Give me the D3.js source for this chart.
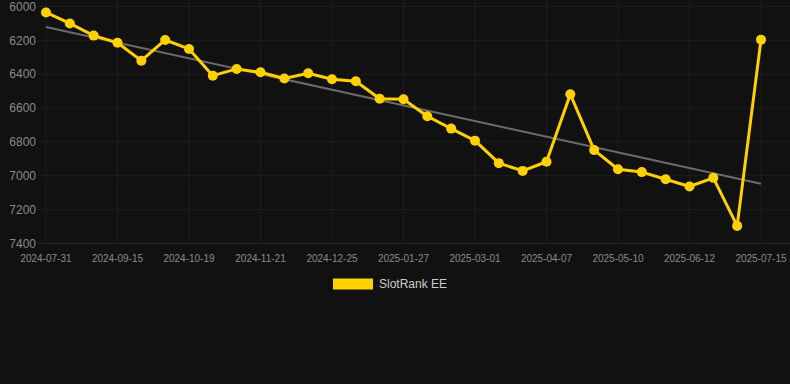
<!DOCTYPE html>
<html>
<head>
<meta charset="utf-8">
<script src="https://cdn.jsdelivr.net/npm/d3@7"></script>
<style>
html,body{margin:0;padding:0;background:#111111;}
svg{display:block;}
</style>
</head>
<body>
<svg id="chart" width="790" height="384"></svg>
<script>
const dates = ["2024-07-31","2024-08-15","2024-08-31","2024-09-15","2024-09-26","2024-10-08","2024-10-19","2024-10-30","2024-11-10","2024-11-21","2024-12-02","2024-12-14","2024-12-25","2025-01-05","2025-01-16","2025-01-27","2025-02-07","2025-02-18","2025-03-01","2025-03-13","2025-03-26","2025-04-07","2025-04-18","2025-04-29","2025-05-10","2025-05-21","2025-06-01","2025-06-12","2025-06-23","2025-07-04","2025-07-15"];
const ranks = [6035,6100,6172,6214,6320,6198,6251,6409,6369,6389,6426,6395,6430,6442,6545,6548,6649,6722,6793,6926,6972,6918,6519,6849,6962,6979,7021,7064,7013,7297,6196];
const yTicks = [6000,6200,6400,6600,6800,7000,7200,7400];
const seriesName = "SlotRank EE";

(function () {
const svg = d3.select("#chart");
const W = 790;
const pLeft = 46, pRight = 761, pTop = 6.5, pBottom = 243.3;

const x = d3.scalePoint().domain(dates).range([pLeft, pRight]);
const y = d3.scaleLinear().domain([6000, 7400]).range([pTop, pBottom]);

const gridColor = "#1d1d1d";
const labelColor = "#8a8a8a";

// horizontal grid
const gy = svg.append("g");
yTicks.forEach(t => {
  gy.append("line").attr("x1", 38).attr("x2", W)
    .attr("y1", y(t)).attr("y2", y(t))
    .attr("stroke", t === 7400 ? "#2a2a2a" : gridColor).attr("stroke-width", 1);
  gy.append("text").attr("x", 36).attr("y", y(t)).attr("dy", "0.35em")
    .attr("text-anchor", "end").attr("fill", labelColor)
    .attr("font-family", "Liberation Sans, Arial, sans-serif").attr("font-size", 12)
    .text(t);
});

// vertical grid + x labels every 3rd
const gx = svg.append("g");
dates.forEach((d, i) => {
  if (i % 3 !== 0) return;
  gx.append("line").attr("x1", x(d)).attr("x2", x(d))
    .attr("y1", 0).attr("y2", pBottom)
    .attr("stroke", gridColor).attr("stroke-width", 1);
  gx.append("text").attr("x", x(d)).attr("y", 262)
    .attr("text-anchor", "middle").attr("fill", labelColor)
    .attr("font-family", "Liberation Sans, Arial, sans-serif").attr("font-size", 10)
    .text(d);
});

// trend line (least squares)
const n = ranks.length;
const idx = d3.range(n);
const mx = d3.mean(idx), my = d3.mean(ranks);
const slope = d3.sum(idx, i => (i - mx) * (ranks[i] - my)) / d3.sum(idx, i => (i - mx) ** 2);
const icpt = my - slope * mx;
svg.append("line")
  .attr("x1", x(dates[0])).attr("y1", y(icpt))
  .attr("x2", x(dates[n - 1])).attr("y2", y(icpt + slope * (n - 1)))
  .attr("stroke", "#6b6b6b").attr("stroke-width", 2);

// series line
const color = "#FFD100";
const line = d3.line().x((d, i) => x(dates[i])).y(d => y(d));
svg.append("path").datum(ranks).attr("d", line)
  .attr("fill", "none").attr("stroke", color).attr("stroke-width", 3)
  .attr("stroke-linejoin", "round");

svg.append("g").selectAll("circle").data(ranks).join("circle")
  .attr("cx", (d, i) => x(dates[i])).attr("cy", d => y(d)).attr("r", 5)
  .attr("fill", color);

// legend
svg.append("rect").attr("x", 333).attr("y", 278.5).attr("width", 40).attr("height", 11)
  .attr("fill", color);
svg.append("text").attr("x", 379).attr("y", 284).attr("dy", "0.35em")
  .attr("fill", "#cccccc").attr("font-family", "Liberation Sans, Arial, sans-serif")
  .attr("font-size", 12).text(seriesName);
})();
</script>
</body>
</html>
